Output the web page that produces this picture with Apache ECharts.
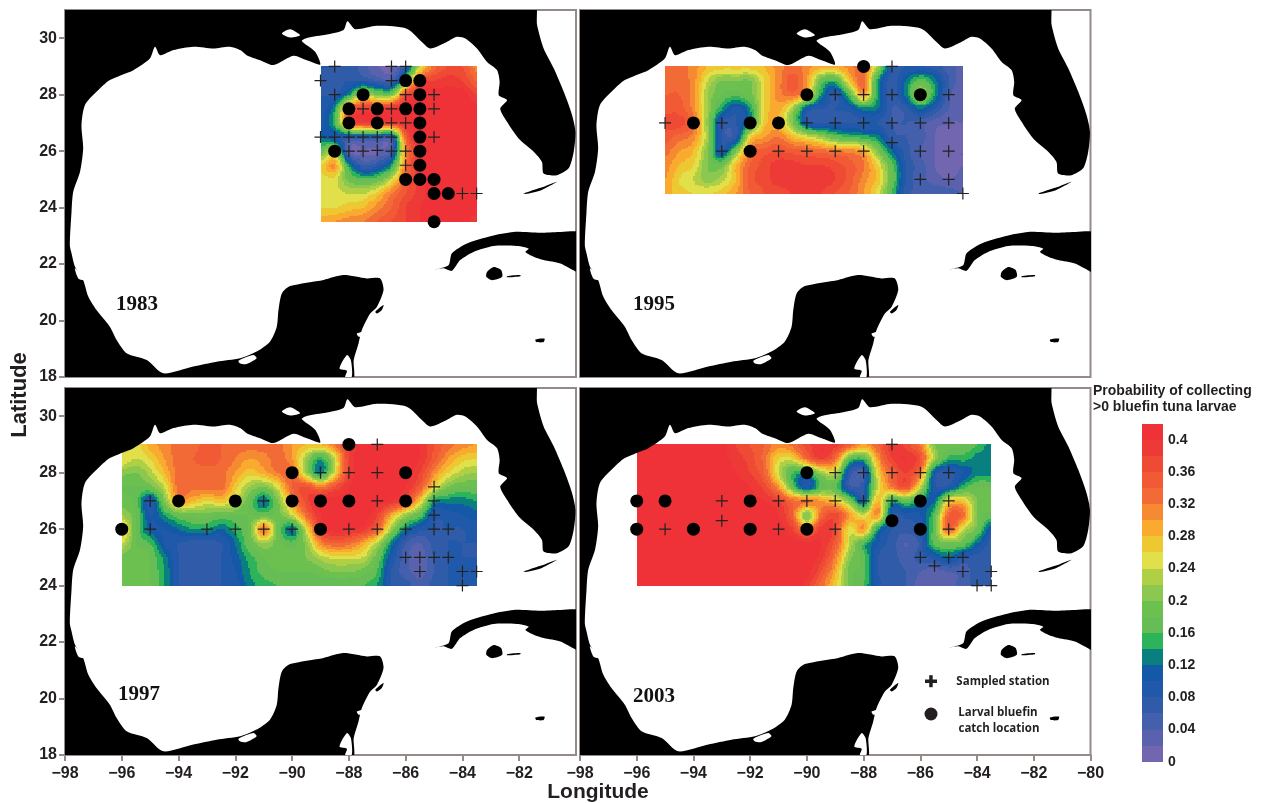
<!DOCTYPE html>
<html><head><meta charset="utf-8">
<script src="https://cdn.jsdelivr.net/npm/echarts@6/dist/echarts.min.js"></script>
<style>html,body{margin:0;padding:0;background:#fff}#c{width:1263px;height:803px}</style>
</head><body><div id="c"></div>
<script>
// Probability bands (lower edge = index*0.02)
const bandColors=['#7366b0','#5a62ae','#4460ac','#2f5ba9','#2059a9','#1458a8','#0a7f80','#2db45a','#66bd55','#6cc04f','#8cc850','#afcf45','#e2e04a','#edc832','#fbaa30','#f58a33','#f26b36','#f15a35','#ef4a34','#ee3a36','#ee3237'];
const barTicks=[0,0.04,0.08,0.12,0.16,0.2,0.24,0.28,0.32,0.36,0.4];
const xTicks=[-98,-96,-94,-92,-90,-88,-86,-84,-82,-80];
const yTicks=[18,20,22,24,26,28,30];

// Gridded probability, in hundredths. Rows north to south, 0.5 deg nodes.
const field1983={lon0:-89,lat0:29,rows:[
[8,8,7,5,2,2,8,24,33,36,36,31],
[8,7,8,8,6,5,18,36,38,39,38,34],
[8,8,14,24,20,20,36,40,41,41,41,38],
[9,14,34,38,38,40,41,41,41,41,41,41],
[9,16,34,38,38,38,40,41,41,41,41,41],
[12,10,8,8,8,7,34,41,41,41,41,41],
[18,22,3,2,2,6,30,40,41,41,41,41],
[26,30,14,6,8,14,32,40,41,41,41,41],
[25,25,19,17,18,24,34,39,41,41,41,41],
[25,25,24,24,27,32,36,39,41,41,41,41],
[26,26,27,28,31,34,38,40,41,41,41,41],
[29,30,31,32,34,36,38,40,41,41,41,39]]};
const field1995={lon0:-95,lat0:29,rows:[
[32,33,31,28,27,27,27,28,31,33,31,29,29,31,33,22,8,8,8,7,5,3],
[33,33,31,24,20,20,20,26,31,35,30,18,16,27,33,14,7,12,17,13,6,3],
[34,34,31,22,18,17,19,26,31,33,28,14,8,17,30,14,7,13,22,14,5,2],
[35,35,31,22,14,9,14,26,29,22,10,8,8,9,13,12,6,7,12,8,4,2],
[37,37,33,21,8,8,14,27,28,20,9,8,8,8,8,8,6,6,5,3,2,2],
[35,33,31,22,8,8,26,30,32,28,25,22,18,16,15,13,7,6,5,2,1,1],
[33,30,28,20,9,20,32,35,36,35,34,33,32,31,29,20,12,7,4,2,1,2],
[31,28,26,20,19,28,34,37,39,39,38,38,37,35,32,26,17,8,5,2,1,2],
[30,26,24,21,23,28,35,37,39,39,39,39,38,35,31,27,18,8,5,3,2,3],
[29,27,26,26,27,30,34,36,37,38,38,38,36,34,30,25,16,7,6,6,5,4]]};
const field1997={lon0:-96,lat0:29,rows:[
[24,25,29,31,33,33,35,34,33,33,33,33,30,28,28,32,38,41,41,41,41,40,36,33,31,30],
[26,24,26,30,33,34,35,34,32,30,31,33,30,22,15,24,38,41,41,41,41,40,35,30,27,26],
[21,20,23,28,33,33,33,33,30,27,29,32,33,22,13,25,38,41,41,41,41,38,31,26,23,22],
[18,18,19,24,33,33,33,33,27,22,20,25,34,36,32,36,40,41,41,41,40,35,26,20,18,18],
[19,17,9,20,30,28,26,27,24,18,12,20,30,37,41,41,41,41,41,40,36,27,14,13,13,14],
[22,18,10,14,18,19,19,18,18,18,18,19,24,33,40,41,41,41,38,29,22,17,9,9,10,11],
[28,18,11,10,12,14,14,12,15,19,32,19,12,25,38,41,40,39,34,22,13,9,8,8,8,9],
[24,18,16,10,8,7,7,8,12,18,22,19,17,21,31,34,33,29,23,13,6,4,7,8,8,8],
[19,19,18,13,8,7,7,8,11,15,18,19,19,20,23,25,25,24,18,10,5,3,6,8,8,8],
[19,19,18,14,8,7,7,8,10,14,17,18,18,18,19,20,20,19,16,8,5,3,6,8,8,8],
[19,19,18,14,8,8,8,8,9,13,15,16,16,16,16,16,16,16,14,8,7,5,7,8,8,8]]};
const field2003={lon0:-96,lat0:29,rows:[
[41,41,41,41,41,41,41,38,36,34,31,33,37,40,39,35,30,34,39,37,32,20,19,18,16,13],
[41,41,41,41,41,41,41,39,37,33,26,26,33,38,33,18,16,30,38,40,36,22,15,15,13,13],
[41,41,41,41,41,41,41,40,38,34,24,16,15,22,24,8,6,26,34,38,32,10,8,10,13,13],
[41,41,41,41,41,41,41,41,40,37,30,18,9,17,17,7,8,24,32,36,24,9,9,15,18,18],
[41,41,41,41,41,41,41,41,41,40,38,33,32,30,27,20,10,28,15,18,14,12,26,27,20,19],
[41,41,41,41,41,41,41,41,41,41,40,34,20,33,37,30,24,30,9,9,10,17,34,33,20,17],
[41,41,41,41,41,41,41,41,41,41,41,38,31,39,37,25,30,14,8,7,9,18,34,24,19,10],
[41,41,41,41,41,41,41,41,41,41,41,41,41,40,35,24,16,10,7,4,7,17,19,18,12,7],
[41,41,41,41,41,41,41,41,41,41,41,41,41,39,32,21,17,8,7,5,7,9,12,8,7,7],
[41,41,41,41,41,41,41,41,41,41,41,41,41,36,29,19,17,8,7,6,4,3,4,5,7,7],
[41,41,41,41,41,41,41,41,41,41,41,41,39,33,27,19,16,9,7,6,3,2,3,5,7,7]]};

// Stations
const crosses1983=[[-88.5,29],[-86.5,29],[-86,29],[-89,28.5],[-86.5,28.5],[-88.5,28],[-86,28],[-85,28],[-87.5,27.5],[-86.5,27.5],[-85,27.5],[-86.5,27],[-86,27],[-89,26.5],[-88.5,26.5],[-88,26.5],[-87.5,26.5],[-87,26.5],[-86.5,26.5],[-85,26.5],[-88,26],[-87.5,26],[-87,26.03],[-86.5,26],[-86,26],[-86,25.5],[-84,24.5],[-83.5,24.5]];
const catches1983=[[-86,28.5],[-85.5,28.5],[-87.5,28],[-85.5,28],[-88,27.5],[-87,27.5],[-86,27.5],[-85.5,27.5],[-88,27],[-87,27],[-85.5,27],[-85.5,26.5],[-88.5,26],[-85.5,26],[-85.5,25.5],[-86,25],[-85.5,25],[-85,25],[-85,24.5],[-84.5,24.5],[-85,23.5]];
const crosses1995=[[-87,29],[-89,28],[-88,28],[-87,28],[-85,28],[-95,27],[-93,27],[-90,27],[-89,27],[-88,27],[-87,27],[-86,27],[-85,27],[-87,26.3],[-93,26],[-91,26],[-90,26],[-89,26],[-88,26],[-86,26],[-85,26],[-86,25],[-85,25],[-84.5,24.5]];
const catches1995=[[-88,29],[-90,28],[-86,28],[-94,27],[-92,27],[-91,27],[-92,26]];
const crosses1997=[[-87,29],[-89,28],[-88,28],[-87,28],[-85,27.5],[-95,27],[-91,27],[-87,27],[-85,27],[-85,26.5],[-95,26],[-93,26],[-92,26],[-91,26],[-90,26],[-88,26],[-87,26],[-86,26],[-85,26],[-84.5,26],[-86,25],[-85.5,25],[-85,25],[-84.5,25],[-85.5,24.5],[-84,24.5],[-83.5,24.5],[-84,24]];
const catches1997=[[-88,29],[-90,28],[-86,28],[-94,27],[-92,27],[-90,27],[-89,27],[-88,27],[-86,27],[-96,26],[-89,26]];
const crosses2003=[[-87,29],[-89,28],[-88,28],[-87,28],[-86,28],[-85,28],[-93,27],[-91,27],[-90,27],[-89,27],[-88,27],[-87,27],[-85,27],[-93,26.3],[-95,26],[-91,26],[-89,26],[-85,26],[-86,25],[-85,25],[-84.5,25],[-85.5,24.7],[-84.5,24.5],[-83.5,24.5],[-84,24],[-83.5,24]];
const catches2003=[[-90,28],[-96,27],[-95,27],[-92,27],[-86,27],[-87,26.3],[-96,26],[-94,26],[-92,26],[-90,26],[-86,26]];

// Coastline outlines, lon/lat
const landMain=[[-81.5,31.3],[-81.37,30.46],[-81.14,29.64],[-80.78,28.93],[-80.43,28.1],[-80.14,27.28],[-80.02,26.69],[-80.08,25.98],[-80.26,25.39],[-80.67,25.15],[-81.14,25.21],[-81.2,25.62],[-81.49,25.98],[-82.02,26.45],[-82.43,27.04],[-82.67,27.51],[-82.43,27.81],[-82.72,27.98],[-82.69,28.46],[-82.78,28.87],[-83.13,29.16],[-83.49,29.64],[-83.9,29.99],[-84.19,30.05],[-84.55,29.87],[-85.13,29.64],[-85.43,29.87],[-85.96,30.34],[-87.02,30.44],[-87.78,30.32],[-88.05,30.6],[-88.19,30.29],[-88.78,30.13],[-89.48,30.01],[-89.66,29.9],[-89.19,29.52],[-89.01,29.07],[-89.48,29.22],[-89.95,29.38],[-90.66,29.05],[-91.13,29.22],[-91.6,29.4],[-91.83,29.58],[-92.19,29.7],[-92.77,29.64],[-93.48,29.7],[-94.18,29.58],[-94.65,29.4],[-94.83,29.7],[-95.01,29.28],[-95.59,28.87],[-96.42,28.52],[-96.89,28.1],[-97.3,27.63],[-97.42,26.92],[-97.36,26.1],[-97.47,25.27],[-97.71,24.56],[-97.77,23.85],[-97.83,22.67],[-97.77,22.38],[-97.65,21.91],[-97.36,21.44],[-97.18,20.85],[-96.89,20.37],[-96.42,19.78],[-96.18,19.31],[-95.83,18.84],[-95.12,18.6],[-94.54,18.13],[-93.48,18.37],[-92.66,18.54],[-91.83,18.66],[-91.25,18.9],[-90.78,19.25],[-90.54,19.78],[-90.48,20.37],[-90.36,20.96],[-90.07,21.22],[-88.89,21.44],[-88.19,21.61],[-87.37,21.49],[-86.9,21.49],[-86.78,21.08],[-87.01,20.49],[-87.25,20.25],[-87.54,19.67],[-87.66,19.19],[-87.83,18.6],[-87.89,17.9],[-98.5,17.9],[-98.5,31.3]];
const landCuba=[[-84.96,21.81],[-84.49,21.96],[-84.37,22.38],[-83.84,22.73],[-83.02,22.99],[-82.2,23.14],[-81.25,23.11],[-80.55,23.14],[-79.73,23.08],[-79.73,21.67],[-80.55,22.02],[-81.14,22.14],[-81.49,22.26],[-81.78,22.43],[-81.67,22.55],[-82.08,22.64],[-82.9,22.64],[-83.61,22.43],[-84.08,22.14],[-84.37,21.76],[-84.66,21.85]];
const landYouth=[[-83.13,21.73],[-82.9,21.9],[-82.64,21.79],[-82.6,21.55],[-82.95,21.43],[-83.16,21.55]];
const landCozumel=[[-87.07,20.31],[-86.78,20.55],[-86.84,20.37],[-87.01,20.25]];
const landCayman=[[-81.43,19.33],[-81.11,19.36],[-81.14,19.24],[-81.4,19.24]];
const landKeys=[[-81.84,24.5],[-81.25,24.7],[-80.67,24.92],[-81.25,24.61],[-81.78,24.48]];
const landJardines=[[-82.43,21.57],[-81.96,21.61],[-81.96,21.57],[-82.43,21.53]];
const waterChetumal=[[-88.07,18.78],[-88.33,18.3],[-88.07,18.22],[-88.13,18.01],[-87.9,18.01],[-87.93,18.6]];
const waterTerminos=[[-91.89,18.58],[-91.36,18.78],[-91.25,18.66],[-91.6,18.46],[-91.83,18.48]];
const waterTamiahua=[[-97.65,21.85],[-97.36,21.55],[-97.33,21.43],[-97.53,21.49]];
const waterPontchartrain=[[-90.36,30.17],[-90.07,30.32],[-89.72,30.11],[-90.07,30.03]];
const waterAscension=[[-87.72,19.54],[-87.43,19.6],[-87.46,19.45],[-87.66,19.43]];

const lands=[landMain,landCuba,landYouth,landCozumel,landCayman,landKeys,landJardines];
const waters=[waterChetumal,waterTerminos,waterTamiahua,waterPontchartrain,waterAscension];

const panels=[
 {field:field1983,cross:crosses1983,catch:catches1983,left:65,top:10,w:511,h:367,xl:false,yl:true,hideLast:false},
 {field:field1995,cross:crosses1995,catch:catches1995,left:580,top:10,w:510.5,h:367,xl:false,yl:false,hideLast:false},
 {field:field1997,cross:crosses1997,catch:catches1997,left:65,top:388,w:511,h:367,xl:true,yl:true,hideLast:true},
 {field:field2003,cross:crosses2003,catch:catches2003,left:580,top:388,w:510.5,h:367,xl:true,yl:false,hideLast:false}
];
const plus='path://M45,0H55V45H100V55H55V100H45V55H0V45H45Z';
const frame='#948a87', ink='#231f20';
const SUB=8;
function bandColor(p){let i=Math.floor(p/2);return bandColors[Math.max(0,Math.min(bandColors.length-1,i))];}
function spline(a,b,c,d,t){return b+0.5*t*(c-a+t*(2*a-5*b+4*c-d+t*(3*(b-c)+d-a)));}
function surface(R,r,c,t,s){
 const nr=R.length,nc=R[0].length,vals=[];
 for(let k=-1;k<=2;k++){
  const row=R[Math.max(0,Math.min(nr-1,r+k))],at=q=>row[Math.max(0,Math.min(nc-1,q))];
  vals.push(spline(at(c-1),at(c),at(c+1),at(c+2),s));
 }
 return spline(vals[0],vals[1],vals[2],vals[3],t);
}
function fieldSeries(p,idx){
 const f=p.field,data=[];
 for(let r=0;r<f.rows.length-1;r++)for(let c=0;c<f.rows[0].length-1;c++)data.push([f.lon0+c*0.5,f.lat0-r*0.5,r,c]);
 return {type:'custom',coordinateSystem:'cartesian2d',xAxisIndex:idx,yAxisIndex:idx,z:2,silent:true,clip:true,progressive:0,
  encode:{x:0,y:1},data,
  renderItem(params,api){
   const lon=api.value(0),lat=api.value(1),r=api.value(2),c=api.value(3),kids=[];
   for(let j=0;j<SUB;j++){
    const t=(j+0.5)/SUB;
    const y0=Math.round(api.coord([lon,lat-j*0.5/SUB])[1]),y1=Math.round(api.coord([lon,lat-(j+1)*0.5/SUB])[1]);
    if(y1<=y0)continue;
    let start=0,col=null;
    for(let i=0;i<=SUB;i++){
     let cc=null;
     if(i<SUB)cc=bandColor(surface(f.rows,r,c,t,(i+0.5)/SUB));
     if(cc!==col){
      if(col){const x0=Math.round(api.coord([lon+start*0.5/SUB,lat])[0]),x1=Math.round(api.coord([lon+i*0.5/SUB,lat])[0]);
       kids.push({type:'rect',shape:{x:x0,y:y0,width:x1-x0,height:y1-y0},style:{fill:col}});}
      col=cc;start=i;
     }
    }
   }
   return {type:'group',children:kids};
  }};
}
function polySeries(list,color,idx,z){
 return {type:'custom',coordinateSystem:'cartesian2d',xAxisIndex:idx,yAxisIndex:idx,z,silent:true,clip:true,
  data:list.map((_,i)=>[list[i][0][0],list[i][0][1],i]),encode:{x:0,y:1},
  renderItem(params,api){
   const pts=list[api.value(2)].map(q=>api.coord(q));
   return {type:'polygon',shape:{points:pts,smooth:0.25},style:{fill:color}};
  }};
}
const grid=[],xAxis=[],yAxis=[],series=[];
panels.forEach((p,i)=>{
 grid.push({left:p.left,top:p.top,width:p.w,height:p.h,show:true,backgroundColor:'#fff',borderColor:frame,borderWidth:2});
 xAxis.push({type:'value',gridIndex:i,min:-98,max:-80,interval:2,splitLine:{show:false},
  axisLine:{show:p.xl,onZero:false,lineStyle:{color:frame,width:2}},
  axisTick:{show:p.xl,length:6,lineStyle:{color:frame,width:2}},
  axisLabel:{show:p.xl,margin:11,color:ink,fontFamily:'Liberation Sans',fontWeight:'bold',fontSize:16,
   showMinLabel:true,showMaxLabel:!p.hideLast,hideOverlap:false,formatter:v=>xTicks.includes(v)?'\u2212'+Math.abs(v):''}});
 yAxis.push({type:'value',gridIndex:i,min:18,max:31,interval:2,splitLine:{show:false},
  axisLine:{show:p.yl,onZero:false,lineStyle:{color:frame,width:2}},
  axisTick:{show:p.yl,length:6,lineStyle:{color:frame,width:2}},
  axisLabel:{show:p.yl,margin:8,color:ink,fontFamily:'Liberation Sans',fontWeight:'bold',fontSize:16,
   showMaxLabel:false,formatter:v=>yTicks.includes(v)?String(v):''}});
 series.push(fieldSeries(p,i));
 series.push(polySeries(lands,'#000',i,3));
 series.push(polySeries(waters,'#fff',i,4));
 series.push({type:'scatter',xAxisIndex:i,yAxisIndex:i,z:6,silent:true,symbol:plus,symbolSize:12,clip:false,itemStyle:{color:'#222',opacity:1},data:p.cross});
 series.push({type:'scatter',xAxisIndex:i,yAxisIndex:i,z:7,silent:true,symbol:'circle',symbolSize:13,clip:false,itemStyle:{color:'#000',opacity:1},data:p.catch});
});
// Colour bar
grid.push({left:1142,top:423.7,width:21,height:338,show:false});
xAxis.push({type:'value',gridIndex:4,min:0,max:1,show:false});
yAxis.push({type:'value',gridIndex:4,min:0,max:0.42,interval:0.04,position:'right',splitLine:{show:false},
 axisLine:{show:false},axisTick:{show:false},
 axisLabel:{margin:5,color:ink,fontFamily:'Liberation Sans',fontWeight:'bold',fontSize:14,showMaxLabel:false,padding:[4,0,0,0],
  formatter:v=>barTicks.some(t=>Math.abs(t-v)<1e-6)?String(+v.toFixed(2)):''}});
series.push({type:'custom',coordinateSystem:'cartesian2d',xAxisIndex:4,yAxisIndex:4,silent:true,z:2,
 data:bandColors.map((c,i)=>[0,i*0.02,i]),encode:{x:0,y:1},
 renderItem(params,api){
  const lo=api.value(1),i=api.value(2),a=api.coord([0,lo+0.02]),b=api.coord([1,lo]);
  return {type:'rect',shape:{x:a[0],y:Math.round(a[1]),width:b[0]-a[0],height:Math.round(b[1])-Math.round(a[1])},style:{fill:bandColors[i]}};
 }});
const yearText=(t,x,y)=>({type:'text',x,y,z:20,style:{text:t,fill:'#111',font:'bold 21px "Liberation Serif"',textVerticalAlign:'middle'}});
const keyText=(t,x,y)=>({type:'text',x,y,z:20,style:{text:t,fill:ink,font:'bold 11.5px "Open Sans"',textAlign:'center',textVerticalAlign:'middle'}});
const graphic=[
 yearText('1983',116,305),yearText('1995',633,305),yearText('1997',118,695),yearText('2003',633,697),
 {type:'text',x:20,y:395,rotation:Math.PI/2,z:20,style:{text:'Latitude',fill:ink,font:'bold 22px "Liberation Sans"',textAlign:'center',textVerticalAlign:'middle'}},
 {type:'text',x:598,y:792,z:20,style:{text:'Longitude',fill:ink,font:'bold 21px "Liberation Sans"',textAlign:'center',textVerticalAlign:'middle'}},
 {type:'text',x:1093,y:391,z:20,style:{text:'Probability of collecting',fill:ink,font:'bold 14px "Liberation Sans"',textVerticalAlign:'middle'}},
 {type:'text',x:1093,y:407,z:20,style:{text:'>0 bluefin tuna larvae',fill:ink,font:'bold 14px "Liberation Sans"',textVerticalAlign:'middle'}},
 {type:'rect',z:20,shape:{x:925,y:679.5,width:12,height:3.5},style:{fill:ink}},
 {type:'rect',z:20,shape:{x:929.2,y:675.2,width:3.5,height:12},style:{fill:ink}},
 {type:'circle',z:20,shape:{cx:931,cy:714,r:6.5},style:{fill:ink}},
 keyText('Sampled station',1003,682),keyText('Larval bluefin',998,713),keyText('catch location',999,729)
];
const chart=echarts.init(document.getElementById('c'),null,{renderer:'canvas'});
chart.setOption({animation:false,backgroundColor:'#fff',grid,xAxis,yAxis,series,graphic});
</script></body></html>
